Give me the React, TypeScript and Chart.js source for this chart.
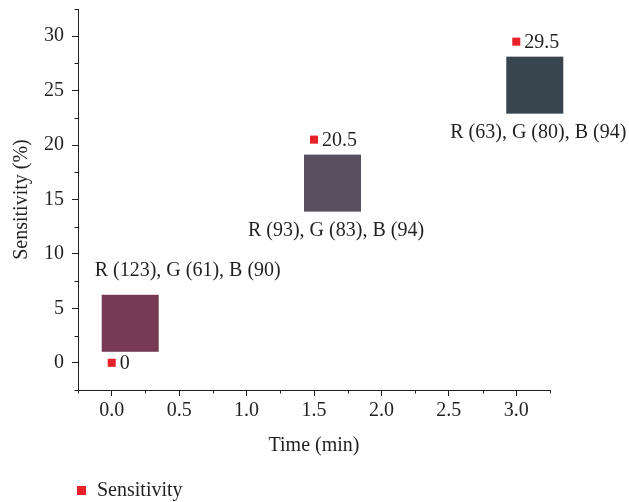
import React, { useEffect, useRef } from 'react';
import { Chart, registerables } from 'chart.js';

Chart.register(...registerables);

const TIMES = [0, 1.5, 3.0];
const SENSITIVITY = [0, 20.5, 29.5];
const VALUE_LABELS = ['0', '20.5', '29.5'];
const R_VALUES = [123, 93, 63];
const G_VALUES = [61, 83, 80];
const B_VALUES = [90, 94, 94];
const X_TICKS = [0, 0.5, 1.0, 1.5, 2.0, 2.5, 3.0];
const X_MINOR = [-0.25, 0.25, 0.75, 1.25, 1.75, 2.25, 2.75, 3.25];
const Y_TICKS = [0, 5, 10, 15, 20, 25, 30];
const Y_MINOR = [-2.5, 2.5, 7.5, 12.5, 17.5, 22.5, 27.5, 32.5];
const SERIES_LABEL = 'Sensitivity';
const X_TITLE = 'Time (min)';
const Y_TITLE = 'Sensitivity (%)';

const INK = '#231f20';
const RED = '#e8202a';
const SWATCH_FILLS = ['rgb(119, 58, 84)', 'rgb(88, 80, 96)', 'rgb(56, 68, 78)'];
const FONT_FAMILY = '"Liberation Serif", "Times New Roman", serif';

const decorPlugin = {
  id: 'decor',
  afterDraw(chart: any) {
    const ctx = chart.ctx;
    const xs = chart.scales.x;
    const ys = chart.scales.y;
    const area = chart.chartArea;
    ctx.save();
    // minor ticks
    ctx.strokeStyle = INK;
    ctx.lineWidth = 1;
    ctx.beginPath();
    X_MINOR.forEach((v) => {
      const p = Math.round(xs.getPixelForValue(v)) + 0.5;
      ctx.moveTo(p, area.bottom);
      ctx.lineTo(p, area.bottom + 3.5);
    });
    Y_MINOR.forEach((v) => {
      const p = Math.round(ys.getPixelForValue(v)) + 0.5;
      ctx.moveTo(area.left - 3.5, p);
      ctx.lineTo(area.left, p);
    });
    ctx.stroke();

    // annotations per point
    const meta = chart.getDatasetMeta(0);
    ctx.font = '20px ' + FONT_FAMILY;
    meta.data.forEach((el: any, i: number) => {
      const px = el.x;
      const py = el.y;
      ctx.fillStyle = INK;
      ctx.textAlign = 'left';
      ctx.textBaseline = 'middle';
      ctx.fillText(VALUE_LABELS[i], px + 8, py + 1);
      const above = i === 0;
      const sx = px - 10;
      const sy = above ? py - 68 : py + 15;
      ctx.fillStyle = SWATCH_FILLS[i];
      ctx.fillRect(sx, sy, 57, 57);
      ctx.fillStyle = INK;
      ctx.textAlign = 'center';
      const txt = `R (${R_VALUES[i]}), G (${G_VALUES[i]}), B (${B_VALUES[i]})`;
      ctx.fillText(txt, above ? px + 76 : px + 22, above ? py - 92 : py + 91);
    });

    // legend
    const ds = chart.data.datasets[0];
    ctx.fillStyle = ds.backgroundColor;
    ctx.fillRect(77, 486, 9, 9);
    ctx.fillStyle = INK;
    ctx.textAlign = 'left';
    ctx.textBaseline = 'middle';
    ctx.fillText(ds.label, 97, 491);
    ctx.restore();
  },
};

export default function App() {
  const ref = useRef<HTMLCanvasElement | null>(null);

  useEffect(() => {
    if (!ref.current) return;
    Chart.defaults.font.family = FONT_FAMILY;
    Chart.defaults.color = INK;
    const chart = new Chart(ref.current, {
      type: 'scatter',
      data: {
        datasets: [
          {
            label: SERIES_LABEL,
            data: TIMES.map((t, i) => ({ x: t, y: SENSITIVITY[i] })),
            backgroundColor: RED,
            borderColor: RED,
            borderWidth: 0,
            pointStyle: 'rect',
            pointRadius: 5.7,
            pointHoverRadius: 5.7,
            clip: false as any,
          },
        ],
      },
      options: {
        responsive: false,
        animation: false,
        events: [],
        layout: { padding: { top: 9, right: 79, bottom: 44, left: 0 } },
        plugins: {
          legend: { display: false },
          tooltip: { enabled: false },
        },
        scales: {
          x: {
            type: 'linear',
            min: -0.25,
            max: 3.25,
            afterBuildTicks: (s: any) => {
              s.ticks = X_TICKS.map((v) => ({ value: v }));
            },
            afterFit: (s: any) => {
              s.height = 68;
              s.paddingLeft = 0;
              s.paddingRight = 0;
            },
            grid: {
              drawOnChartArea: false,
              drawTicks: true,
              tickLength: 6,
              tickColor: INK,
              lineWidth: 1,
            },
            border: { display: true, color: INK, width: 1 },
            ticks: {
              color: INK,
              font: { size: 20 },
              padding: 3,
              maxRotation: 0,
              callback: (v: any) => Number(v).toFixed(1),
            },
            title: {
              display: true,
              text: X_TITLE,
              color: INK,
              font: { size: 20 },
              padding: { top: 0, bottom: 0 },
            },
          },
          y: {
            type: 'linear',
            min: -2.5,
            max: 32.5,
            afterBuildTicks: (s: any) => {
              s.ticks = Y_TICKS.map((v) => ({ value: v }));
            },
            afterFit: (s: any) => {
              s.width = 78;
              s.paddingTop = 0;
              s.paddingBottom = 0;
            },
            grid: {
              drawOnChartArea: false,
              drawTicks: true,
              tickLength: 6,
              tickColor: INK,
              lineWidth: 1,
            },
            border: { display: true, color: INK, width: 1 },
            ticks: {
              color: INK,
              font: { size: 20 },
              padding: 8,
              callback: (v: any) => String(v),
            },
            title: {
              display: true,
              text: Y_TITLE,
              color: INK,
              font: { size: 20 },
              padding: { top: 10, bottom: 0 },
            },
          },
        },
      },
      plugins: [decorPlugin],
    } as any);
    return () => chart.destroy();
  }, []);

  return (
    <div style={{ position: 'absolute', left: 0, top: 0, width: 629, height: 502, background: '#fff' }}>
      <canvas ref={ref} width={629} height={502} style={{ display: 'block' }} />
    </div>
  );
}
